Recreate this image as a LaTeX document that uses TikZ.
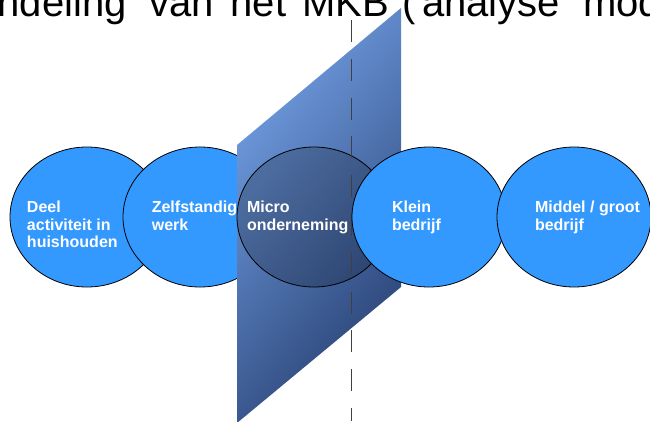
\documentclass[tikz,border=0pt]{standalone}
\usepackage{fontspec}
\setmainfont{Liberation Sans}
\usetikzlibrary{shapes.geometric}
\definecolor{blobblue}{RGB}{51,153,255}
\definecolor{planetop}{RGB}{132,182,255}
\definecolor{planebot}{RGB}{22,42,88}
\tikzset{
  blob/.style={ellipse, draw=black, line width=0.8pt, fill=blobblue, minimum width=154pt, minimum height=140pt, inner sep=0pt, outer sep=0pt},
  blobtext/.style={anchor=base west, align=left, inner sep=0pt, text=white, font=\fontsize{16}{17.5}\selectfont\bfseries},
  titleword/.style={anchor=base west, inner sep=0pt, font=\fontsize{40}{44}\selectfont}
}

\begin{document}
\begin{tikzpicture}[x=1pt,y=1pt,yscale=-1]
\useasboundingbox (0,0) rectangle (650,421);
% title (cut off at the page edges)
\node[titleword] (ttlA) at (-2.6,16.5) {ndeling};
\node[titleword] (ttlB) at (149.5,16.5) {van};
\node[titleword] (ttlC) at (230.5,16.5) {het};
\node[titleword] (ttlD) at (302,16.5) {MKB};
\node[titleword] (ttlE) at (402,16.5) {(};
\node[titleword] (ttlF) at (422,16.5) {analyse};
\node[titleword] (ttlG) at (583,16.5) {mod};
% left of the plane (base = last line)
\node[blob] (deel) at (87,217) {};
\node[blobtext] (deeltxt) at (26.8,247.5) {Deel\\activiteit in\\huishouden};
\node[blob] (zelf) at (200,217) {};
\node[blobtext] (zelftxt) at (151.6,230) {Zelfstandig\\werk};
% the plane, shaded on a square so the angle stays true
\begin{scope}
\clip (237,145) -- (401,8) -- (401,287) -- (237,423) -- cycle;
\shade[top color=planetop, bottom color=planebot, shading angle=50] (111.5,8) rectangle (526.5,423);
\end{scope}
\node[blob, fill=black, fill opacity=0.2] (micro) at (314,217) {};
\node[blobtext] (microtxt) at (246.8,230) {Micro\\onderneming};
\draw[black!75, line width=1pt, dash pattern=on 22pt off 16.8pt] (351,20) -- (351,421);
% right of the plane
\node[blob] (klein) at (429,217) {};
\node[blobtext] (kleintxt) at (391.8,230) {Klein\\bedrijf};
\node[blob] (middel) at (574,217) {};
\node[blobtext] (middeltxt) at (534.8,230) {Middel / groot\\bedrijf};
\end{tikzpicture}
\end{document}
